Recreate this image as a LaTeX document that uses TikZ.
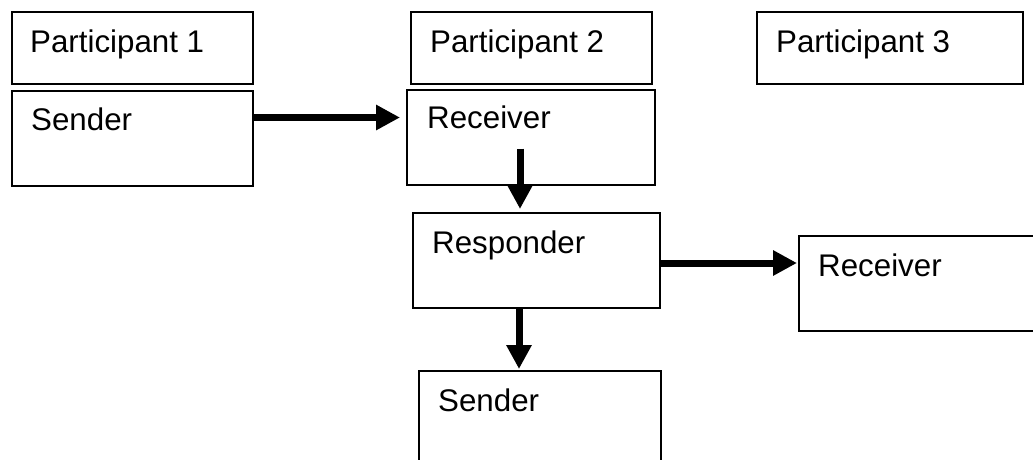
\documentclass[tikz,border=0pt]{standalone}
\usepackage{fontspec}
\setmainfont{Liberation Sans}
\usetikzlibrary{arrows.meta,calc}
\begin{document}
\begin{tikzpicture}[x=1pt,y=-1pt,
  box/.style={draw=black,line width=1.6pt,rectangle,inner sep=0pt,anchor=north west},
  txt/.style={inner sep=0pt,anchor=base west,font=\fontsize{31.3}{36}\selectfont},
  arr/.style={line width=7pt,-{Triangle[length=24pt,width=24pt]}}]
\clip (0,0) rectangle (1033,459);
\fill[white] (0,0) rectangle (1033,459);

% participant headers
\node[box,minimum width=241pt,minimum height=72pt] (p1) at (11,11) {};
\node[box,minimum width=241pt,minimum height=72pt] (p2) at (410,11) {};
\node[box,minimum width=266pt,minimum height=72pt] (p3) at (756,11) {};

% role boxes
\node[box,minimum width=241pt,minimum height=95pt] (s1) at (11,90) {};
\node[box,minimum width=248pt,minimum height=95pt] (r1) at (406,89) {};
\node[box,minimum width=247pt,minimum height=95pt] (resp) at (412,212) {};
\node[box,minimum width=260pt,minimum height=95pt] (r2) at (798,235) {};
\node[box,minimum width=242pt,minimum height=110pt] (s2) at (418,370) {};

% labels
\node[txt] (p1t) at ($(p1.north west)+(19,41)$) {Participant 1};
\node[txt] (p2t) at ($(p2.north west)+(20,41)$) {Participant 2};
\node[txt] (p3t) at ($(p3.north west)+(20,41)$) {Participant 3};
\node[txt] (s1t) at ($(s1.north west)+(20,40)$) {Sender};
\node[txt] (r1t) at ($(r1.north west)+(21,39)$) {Receiver};
\node[txt] (respt) at ($(resp.north west)+(20,41)$) {Responder};
\node[txt] (r2t) at ($(r2.north west)+(20,41)$) {Receiver};
\node[txt] (s2t) at ($(s2.north west)+(20,41)$) {Sender};

% message flow
\coordinate (a1) at ($(s1.north east)+(0,27.5)$);
\draw[arr] (a1) -- (a1 -| r1.west) [shorten >=6pt];
\coordinate (a2) at ($(r1.south west)+(114,-37)$);
\draw[arr,shorten >=3pt] (a2) -- (a2 |- resp.north);
\coordinate (a3) at ($(resp.north east)+(0,51)$);
\draw[arr,shorten >=1pt] (a3) -- (a3 -| r2.west);
\coordinate (a4) at ($(resp.south west)+(107,0)$);
\draw[arr,shorten >=1pt] (a4) -- (a4 |- s2.north);
\end{tikzpicture}
\end{document}
